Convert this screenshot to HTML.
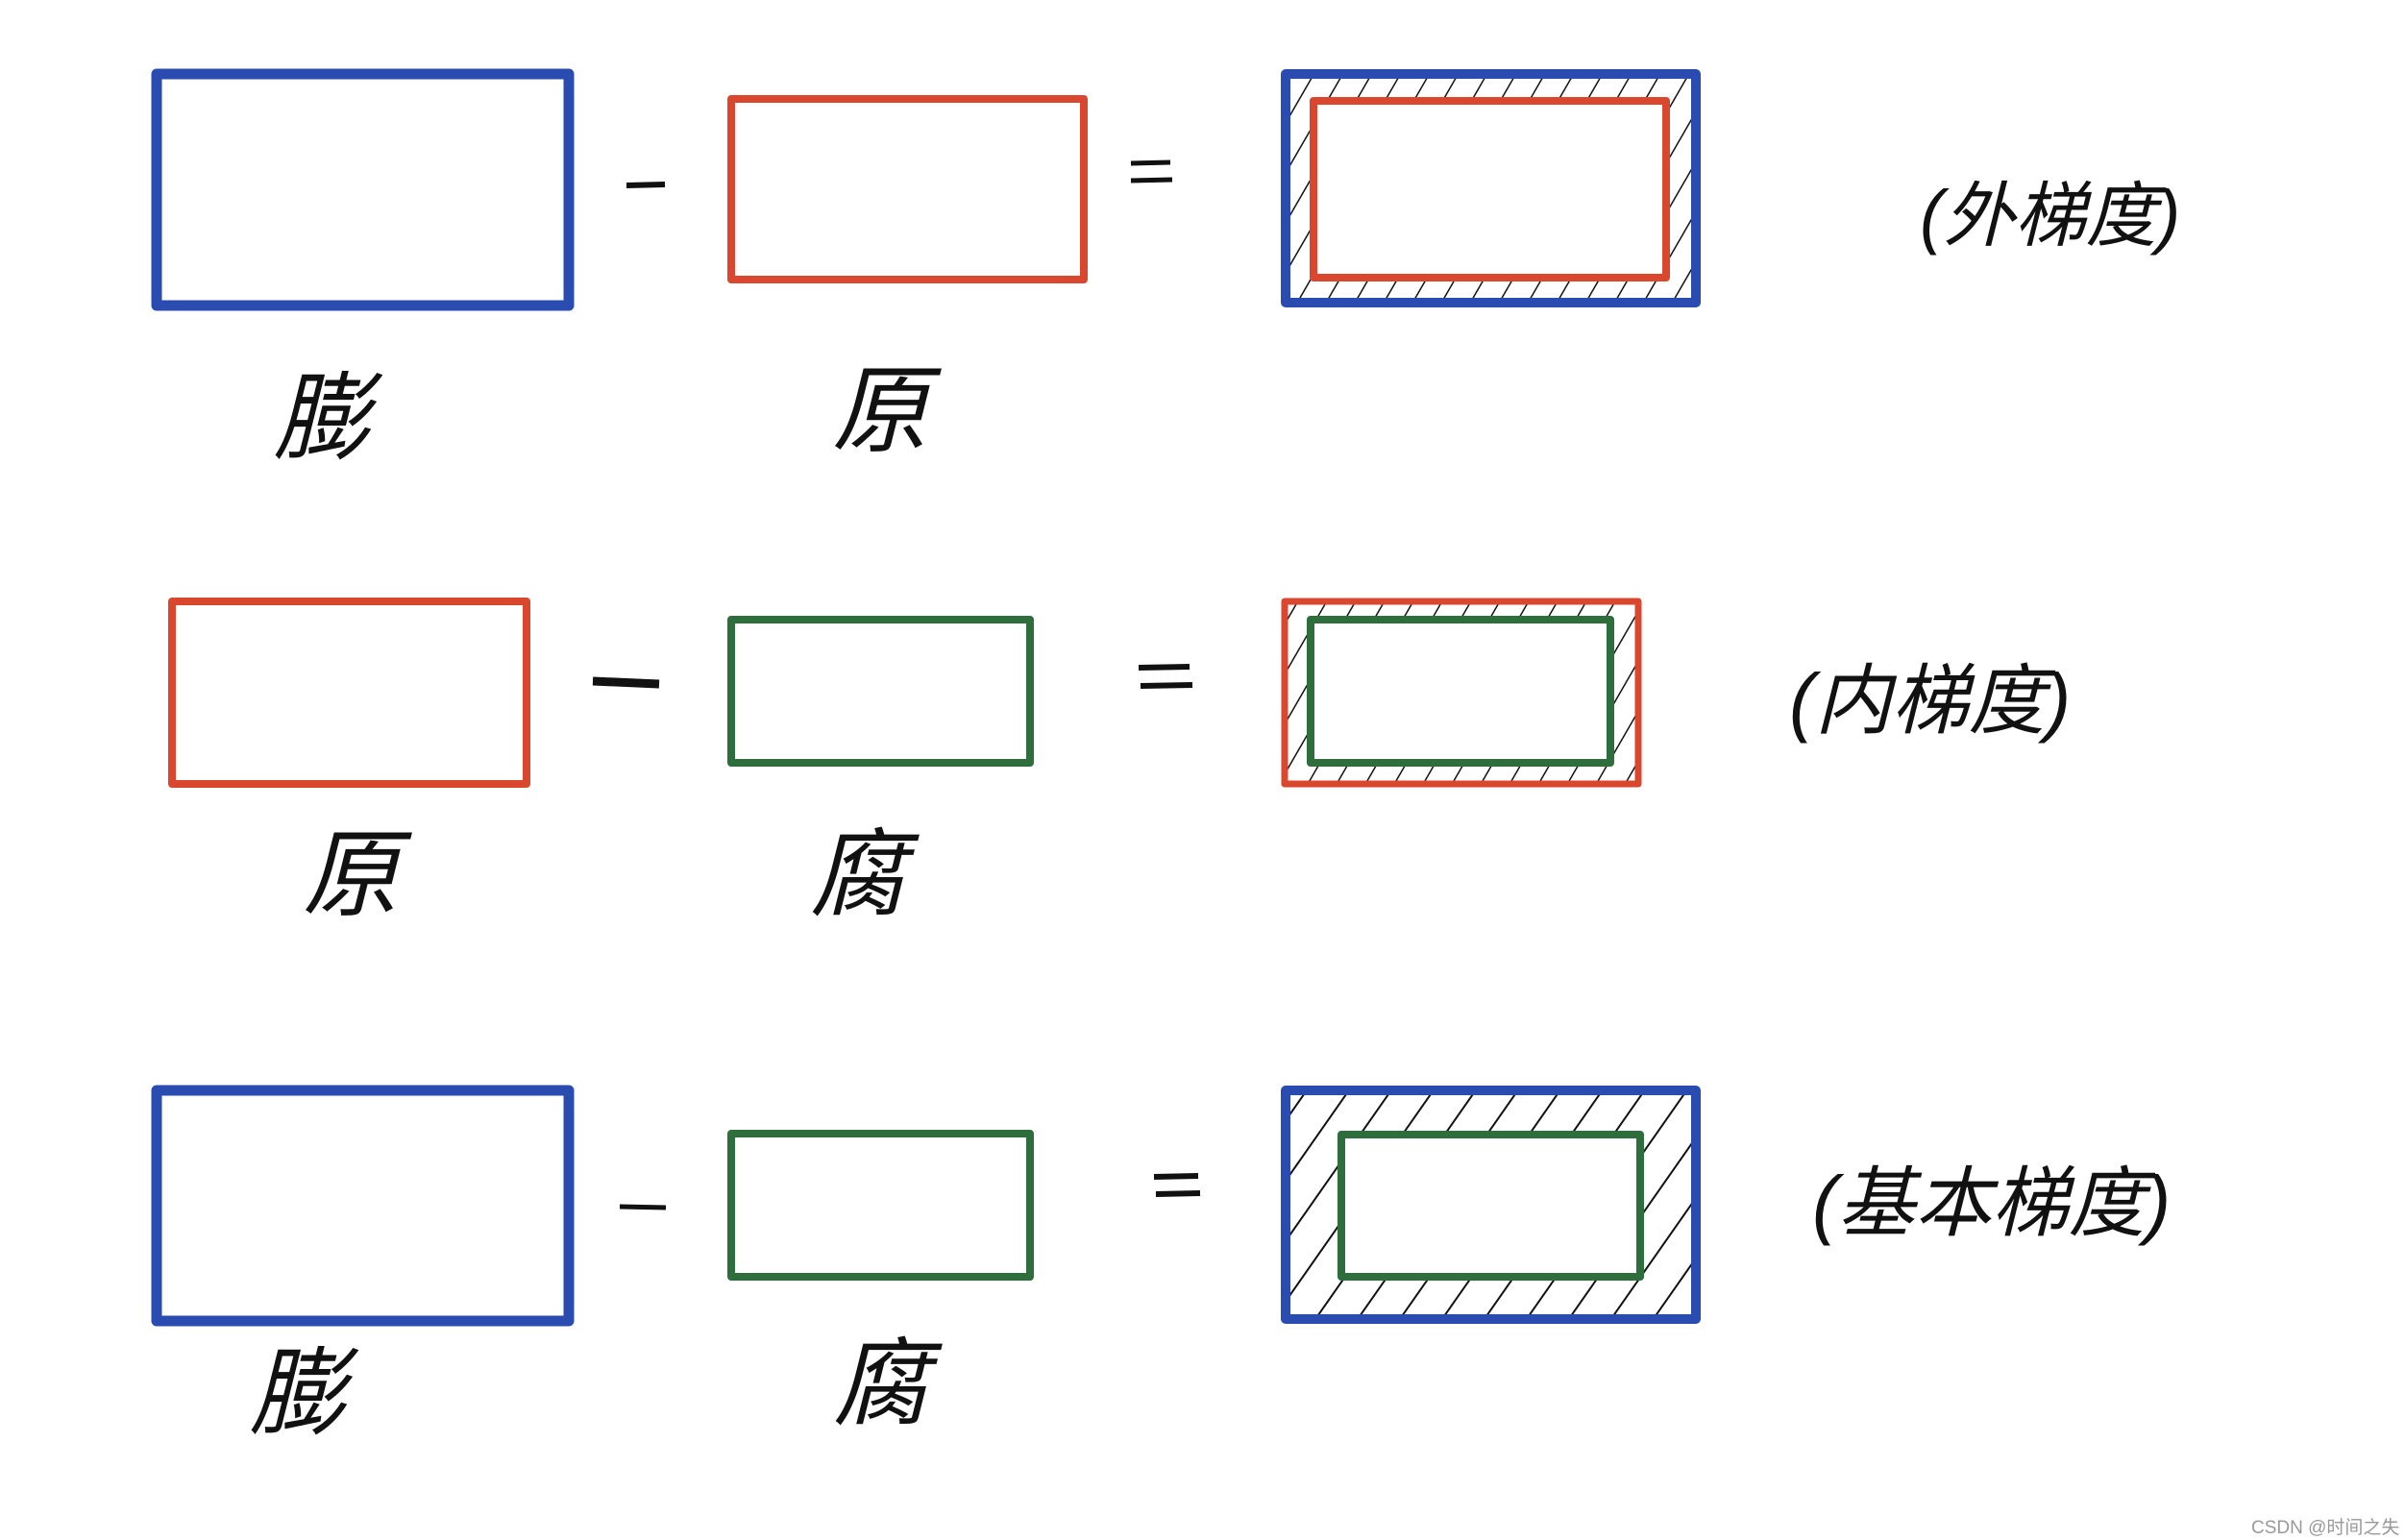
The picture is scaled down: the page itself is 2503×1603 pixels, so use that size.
<!DOCTYPE html>
<html><head><meta charset="utf-8"><style>
html,body{margin:0;padding:0;background:#fff;width:2503px;height:1603px;overflow:hidden}
svg{position:absolute;left:0;top:0}
.hw{font-family:"Liberation Sans","Noto Sans CJK SC",sans-serif;fill:#111;font-style:italic}
</style></head><body>
<svg width="2503" height="1603" viewBox="0 0 2503 1603" xmlns="http://www.w3.org/2000/svg">
<defs>
<pattern id="h1" patternUnits="userSpaceOnUse" width="26" height="26" patternTransform="rotate(30)">
<line x1="0" y1="0" x2="0" y2="26" stroke="#111" stroke-width="3"/>
</pattern>
<pattern id="h2" patternUnits="userSpaceOnUse" width="36" height="36" patternTransform="rotate(35)">
<line x1="0" y1="0" x2="0" y2="36" stroke="#111" stroke-width="4"/>
</pattern>
</defs>
<g fill="none" stroke-linejoin="round">
<!-- row 1 -->
<rect x="163" y="77" width="429" height="241" stroke="#2a4bb0" stroke-width="11"/>
<line x1="652" y1="193" x2="692" y2="192" stroke="#111" stroke-width="6"/>
<rect x="761" y="103" width="367" height="188" stroke="#d9472f" stroke-width="8"/>
<line x1="1177" y1="170" x2="1218" y2="169" stroke="#111" stroke-width="5"/>
<line x1="1177" y1="188" x2="1220" y2="187" stroke="#111" stroke-width="5"/>
<path d="M1335 75H1767V319H1335Z M1365 106V290H1735V106Z" fill="url(#h1)" fill-rule="evenodd" stroke="none"/>
<rect x="1338" y="77" width="427" height="238" stroke="#2a4bb0" stroke-width="10"/>
<rect x="1367" y="105" width="367" height="184" stroke="#d9472f" stroke-width="8"/>
<!-- row 2 -->
<rect x="179" y="626" width="369" height="190" stroke="#d9472f" stroke-width="8"/>
<line x1="617" y1="709" x2="686" y2="712" stroke="#111" stroke-width="9"/>
<rect x="761" y="645" width="311" height="149" stroke="#2e6e3c" stroke-width="8"/>
<line x1="1185" y1="695" x2="1238" y2="694" stroke="#111" stroke-width="6"/>
<line x1="1187" y1="714" x2="1241" y2="713" stroke="#111" stroke-width="6"/>
<path d="M1335 625H1706V818H1335Z M1362 645V796H1677V645Z" fill="url(#h1)" fill-rule="evenodd" stroke="none"/>
<rect x="1337" y="626" width="368" height="190" stroke="#d9472f" stroke-width="7"/>
<rect x="1364" y="645" width="312" height="149" stroke="#2e6e3c" stroke-width="8"/>
<!-- row 3 -->
<rect x="163" y="1135" width="429" height="240" stroke="#2a4bb0" stroke-width="11"/>
<line x1="645" y1="1256" x2="693" y2="1257" stroke="#111" stroke-width="5"/>
<rect x="761" y="1180" width="311" height="149" stroke="#2e6e3c" stroke-width="8"/>
<line x1="1201" y1="1225" x2="1247" y2="1224" stroke="#111" stroke-width="6"/>
<line x1="1203" y1="1243" x2="1249" y2="1242" stroke="#111" stroke-width="6"/>
<path d="M1335 1132H1767V1375H1335Z M1394 1180V1330H1708V1180Z" fill="url(#h2)" fill-rule="evenodd" stroke="none"/>
<rect x="1338" y="1135" width="427" height="238" stroke="#2a4bb0" stroke-width="10"/>
<rect x="1396" y="1181" width="311" height="148" stroke="#2e6e3c" stroke-width="8"/>
</g>
<!-- labels -->
<text class="hw" x="285" y="470" font-size="100">膨</text>
<text class="hw" x="866" y="462" font-size="100">原</text>
<text class="hw" x="1998" y="250" font-size="74">(外梯度)</text>
<text class="hw" x="315" y="945" font-size="100">原</text>
<text class="hw" x="843" y="945" font-size="100">腐</text>
<text class="hw" x="1862" y="757" font-size="80">(内梯度)</text>
<text class="hw" x="260" y="1485" font-size="100">膨</text>
<text class="hw" x="867" y="1475" font-size="100">腐</text>
<text class="hw" x="1886" y="1280" font-size="80">(基本梯度)</text>
<text x="2343" y="1596" font-size="19" fill="#999" font-family="Liberation Sans,'Noto Sans CJK SC',sans-serif">CSDN @时间之失</text>
</svg>
</body></html>
